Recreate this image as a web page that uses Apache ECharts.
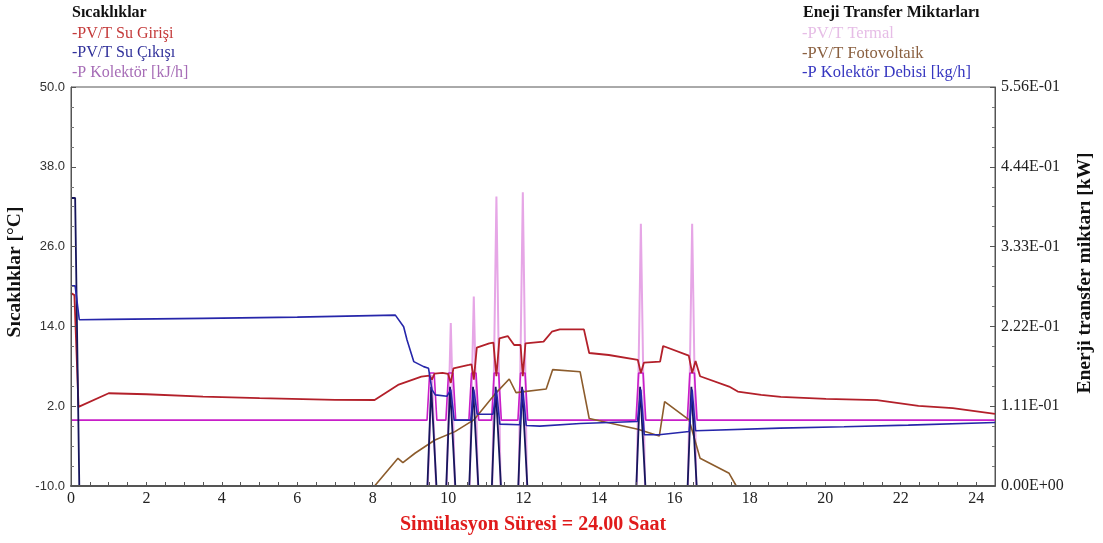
<!DOCTYPE html>
<html lang="tr">
<head>
    <meta charset="UTF-8">
    <title>Sıcaklıklar / Enerji Transferi</title>
    <script src="https://cdn.jsdelivr.net/npm/echarts@6/dist/echarts.min.js"></script>
    <style>
        html, body { margin: 0; padding: 0; background: #fff; }
    </style>
</head>
<body>
    <div id="main" style="width: 1103px;height:543px;"></div>
    <script type="text/javascript">
        // x ekseni etiketleri (saat)
        var xLabelValues = [0, 2, 4, 6, 8, 10, 12, 14, 16, 18, 20, 22, 24];

        // PV/T Su Girişi [°C]
        var girisT = [0, 0.09, 0.2, 1.0, 2.0, 3.5, 5.0, 7.0, 8.05, 8.67, 9.29, 9.5, 9.57, 9.64, 9.85, 10.0, 10.07, 10.14, 10.55, 10.62,
                      10.68, 10.76, 11.09, 11.2, 11.28, 11.36, 11.58, 11.75, 11.92, 11.98, 12.05, 12.53, 12.75, 12.96, 13.6, 13.74, 14.26, 15.03, 15.11, 15.19,
                      15.62, 15.7, 16.38, 16.47, 16.56, 16.68, 17.45, 17.68, 18.3, 18.82, 20.02, 21.37, 22.47, 23.38, 24.5];
        var girisV = [19.0, 18.7, 1.9, 3.95, 3.8, 3.45, 3.2, 2.95, 2.93, 5.2, 6.44, 6.6, 6.0, 6.9, 7.0, 6.85, 5.5, 7.7, 8.2, 8.3,
                      6.0, 10.8, 11.45, 11.55, 6.5, 12.2, 12.55, 11.2, 11.2, 6.5, 11.45, 11.7, 13.2, 13.55, 13.55, 10.0, 9.7, 8.95, 7.0, 8.55,
                      8.7, 11.05, 9.6, 7.0, 8.8, 6.5, 4.95, 4.2, 3.7, 3.4, 3.1, 2.9, 2.05, 1.7, 0.85];

        // PV/T Su Çıkışı [°C]
        var cikisT = [0, 0.11, 0.22, 1.0, 3.5, 6.0, 8.6, 8.82, 8.91, 9.09, 9.35, 9.48, 9.57, 9.66, 9.97, 10.07, 10.16, 10.6, 10.68, 10.77,
                      11.19, 11.28, 11.37, 11.9, 11.98, 12.07, 12.43, 13.5, 15.02, 15.11, 15.2, 15.59, 16.39, 16.47, 16.56, 18.8, 20.5, 22.2, 24.5];
        var cikisV = [20.1, 20.1, 15.0, 15.05, 15.2, 15.4, 15.7, 13.95, 11.95, 8.7, 7.95, 7.7, 4.5, 3.7, 3.5, 4.5, -0.1, -0.1, 4.5, 0.8,
                      0.8, 4.5, -0.7, -0.8, 4.5, -0.9, -1.0, -0.6, -0.3, 4.5, -2.3, -2.3, -1.8, 4.5, -1.7, -1.3, -1.1, -0.85, -0.45];

        // P Kolektör [kJ/h] (sol eksen)
        var kolektorT = [0, 9.44, 9.51, 9.63, 9.70, 9.94, 10.01, 10.13, 10.20, 10.55, 10.62, 10.74, 10.81, 11.15, 11.22, 11.34, 11.41,
                         11.85, 11.92, 12.04, 12.11, 14.98, 15.05, 15.17, 15.24, 16.34, 16.41, 16.53, 16.60, 24.5];
        var kolektorV = [-0.1, -0.1, 7, 7, -0.1, -0.1, 7, 7, -0.1, -0.1, 7, 7, -0.1, -0.1, 7, 7, -0.1,
                         -0.1, 7, 7, -0.1, -0.1, 7, 7, -0.1, -0.1, 7, 7, -0.1, -0.1];

        // PV/T Termal [kW]
        var termalT = [0, 9.46, 9.57, 9.68, 9.96, 10.07, 10.18, 10.57, 10.68, 10.79, 11.17, 11.28, 11.39, 11.87, 11.98, 12.09,
                       15.00, 15.11, 15.22, 16.36, 16.47, 16.58, 24.5];
        var termalV = [0, 0, 0.155, 0, 0, 0.227, 0, 0, 0.264, 0, 0, 0.403, 0, 0, 0.409, 0,
                       0, 0.365, 0, 0, 0.365, 0, 0];

        // PV/T Fotovoltaik [kW]
        var pvT = [0, 8.05, 8.67, 8.8, 9.12, 9.65, 10.18, 10.68, 11.26, 11.62, 11.8, 12.6, 12.77, 13.5, 13.74, 15.03, 15.6, 15.74,
                   16.39, 16.68, 17.45, 17.64, 24.5];
        var pvV = [0, 0, 0.0386, 0.0325, 0.0456, 0.064, 0.0757, 0.092, 0.129, 0.149, 0.13, 0.135, 0.162, 0.159, 0.094, 0.079, 0.0697, 0.1175,
                   0.092, 0.0386, 0.0177, 0, 0];

        // P Kolektör Debisi [kg/h] (sağ eksen)
        var debiT = [0, 0.11, 0.22, 9.45, 9.55, 9.59, 9.69, 9.95, 10.05, 10.09, 10.19, 10.56, 10.66, 10.70, 10.80, 11.16, 11.26, 11.30, 11.40,
                     11.86, 11.96, 12.00, 12.10, 14.99, 15.09, 15.13, 15.23, 16.35, 16.45, 16.49, 16.59, 24.5];
        var debiV = [0.401, 0.401, 0, 0, 0.138, 0.138, 0, 0, 0.138, 0.138, 0, 0, 0.138, 0.138, 0, 0, 0.138, 0.138, 0,
                     0, 0.138, 0.138, 0, 0, 0.138, 0.138, 0, 0, 0.138, 0.138, 0, 0];

        var SERIF = '"Liberation Serif", "Times New Roman", serif';

        function pairs(t, v) {
            var out = [];
            for (var i = 0; i < t.length; i++) out.push([t[i], v[i]]);
            return out;
        }

        // 1.11E-01 biçimi
        function sci(v) {
            if (Math.abs(v) < 1e-12) return '0.00E+00';
            var e = Math.floor(Math.log10(Math.abs(v)));
            var s = (v / Math.pow(10, e)).toFixed(2);
            if (s === '10.00') { s = '1.00'; e++; }
            var ae = Math.abs(e);
            return s + 'E' + (e < 0 ? '-' : '+') + (ae < 10 ? '0' : '') + ae;
        }

        var xTickValues = [];
        for (var h = 0; h <= 24; h += 0.5) xTickValues.push(h);

        var myChart = echarts.init(document.getElementById('main'));

        var option = {
            animation: false,
            backgroundColor: '#fff',
            title: [
                {
                    text: 'Sıcaklıklar', left: 72, top: 5, padding: 0,
                    textStyle: { fontFamily: SERIF, fontSize: 16, fontWeight: 'bold', color: '#111' }
                },
                {
                    text: 'Eneji Transfer Miktarları', left: 803, top: 5, padding: 0,
                    textStyle: { fontFamily: SERIF, fontSize: 16, fontWeight: 'bold', color: '#111' }
                }
            ],
            legend: [
                {
                    orient: 'vertical', left: 67, top: 24, padding: 0, itemGap: 0,
                    itemWidth: 0, itemHeight: 14, icon: 'none', selectedMode: false,
                    formatter: '-{name}',
                    textStyle: { fontFamily: SERIF, fontSize: 16, lineHeight: 19.5 },
                    data: [
                        { name: 'PV/T Su Girişi', textStyle: { color: '#c43a3a' } },
                        { name: 'PV/T Su Çıkışı', textStyle: { color: '#30309a' } },
                        { name: 'P Kolektör [kJ/h]', textStyle: { color: '#a66cb6' } }
                    ]
                },
                {
                    orient: 'vertical', left: 797, top: 24, padding: 0, itemGap: 0,
                    itemWidth: 0, itemHeight: 14, icon: 'none', selectedMode: false,
                    formatter: '-{name}',
                    textStyle: { fontFamily: SERIF, fontSize: 16.5, lineHeight: 19.5 },
                    data: [
                        { name: 'PV/T Termal', textStyle: { color: '#e6bde6' } },
                        { name: 'PV/T Fotovoltaik', textStyle: { color: '#8a6040' } },
                        { name: 'P Kolektör Debisi [kg/h]', textStyle: { color: '#3636c0' } }
                    ]
                }
            ],
            grid: {
                left: 71, right: 108, top: 87, bottom: 57,
                containLabel: false, outerBoundsMode: 'none',
                show: true, borderColor: '#555', borderWidth: 1, backgroundColor: '#fff'
            },
            xAxis: {
                type: 'value', min: 0, max: 24.5, z: 10,
                axisLine: { show: true, onZero: false, lineStyle: { color: '#555', width: 2 } },
                axisTick: { show: true, inside: true, length: 4, customValues: xTickValues, lineStyle: { color: '#555' } },
                axisLabel: { customValues: xLabelValues, fontFamily: SERIF, fontSize: 16, color: '#222', margin: 5 },
                splitLine: { show: false },
                name: 'Simülasyon Süresi = 24.00 Saat',
                nameLocation: 'middle', nameGap: 29,
                nameTextStyle: { fontFamily: SERIF, fontSize: 20, fontWeight: 'bold', color: '#e01b1b' }
            },
            yAxis: [
                {
                    type: 'value', min: -10, max: 50, interval: 12, position: 'left', z: 10,
                    axisLine: { show: true, onZero: false, lineStyle: { color: '#555', width: 1 } },
                    axisTick: { show: true, inside: true, length: 5, lineStyle: { color: '#555' } },
                    minorTick: { show: true, splitNumber: 4, length: 3, lineStyle: { color: '#777' } },
                    splitLine: { show: false },
                    axisLabel: {
                        formatter: function (v) { return v.toFixed(1); },
                        fontFamily: '"Liberation Sans", Arial, sans-serif', fontSize: 13, color: '#333', margin: 6
                    },
                    name: 'Sıcaklıklar [°C]',
                    nameLocation: 'middle', nameGap: 39,
                    nameTextStyle: { fontFamily: SERIF, fontSize: 19.5, fontWeight: 'bold', color: '#111', padding: [0, 0, 0, 29] }
                },
                {
                    type: 'value', min: 0, max: 0.5556, interval: 0.11112, position: 'right', z: 10,
                    axisLine: { show: true, onZero: false, lineStyle: { color: '#555', width: 1 } },
                    axisTick: { show: true, inside: true, length: 5, lineStyle: { color: '#555' } },
                    minorTick: { show: true, splitNumber: 4, length: 3, lineStyle: { color: '#777' } },
                    splitLine: { show: false },
                    axisLabel: { formatter: sci, fontFamily: SERIF, fontSize: 16, color: '#222', margin: 6 },
                    name: 'Enerji transfer miktarı [kW]',
                    nameLocation: 'middle', nameGap: 80,
                    nameTextStyle: { fontFamily: SERIF, fontSize: 19.5, fontWeight: 'bold', color: '#111', padding: [0, 0, 0, 27] }
                }
            ],
            series: [
                {
                    name: 'PV/T Termal', type: 'line', yAxisIndex: 1, showSymbol: false, symbol: 'none', z: 2,
                    lineStyle: { color: '#e6a6e6', width: 2 }, itemStyle: { color: '#e6a6e6' },
                    data: pairs(termalT, termalV)
                },
                {
                    name: 'P Kolektör [kJ/h]', type: 'line', yAxisIndex: 0, showSymbol: false, symbol: 'none', z: 3,
                    lineStyle: { color: '#c81ec8', width: 1.6 }, itemStyle: { color: '#c81ec8' },
                    data: pairs(kolektorT, kolektorV)
                },
                {
                    name: 'PV/T Fotovoltaik', type: 'line', yAxisIndex: 1, showSymbol: false, symbol: 'none', z: 3,
                    lineStyle: { color: '#8c5c2c', width: 1.6 }, itemStyle: { color: '#8c5c2c' },
                    data: pairs(pvT, pvV)
                },
                {
                    name: 'PV/T Su Girişi', type: 'line', yAxisIndex: 0, showSymbol: false, symbol: 'none', z: 3,
                    lineStyle: { color: '#b3202a', width: 1.8 }, itemStyle: { color: '#b3202a' },
                    data: pairs(girisT, girisV)
                },
                {
                    name: 'P Kolektör Debisi [kg/h]', type: 'line', yAxisIndex: 1, showSymbol: false, symbol: 'none', z: 4,
                    lineStyle: { color: '#16165c', width: 1.8 }, itemStyle: { color: '#16165c' },
                    data: pairs(debiT, debiV)
                },
                {
                    name: 'PV/T Su Çıkışı', type: 'line', yAxisIndex: 0, showSymbol: false, symbol: 'none', z: 4,
                    lineStyle: { color: '#2626aa', width: 1.6 }, itemStyle: { color: '#2626aa' },
                    data: pairs(cikisT, cikisV)
                }
            ]
        };

        myChart.setOption(option);
    </script>
</body>
</html>
